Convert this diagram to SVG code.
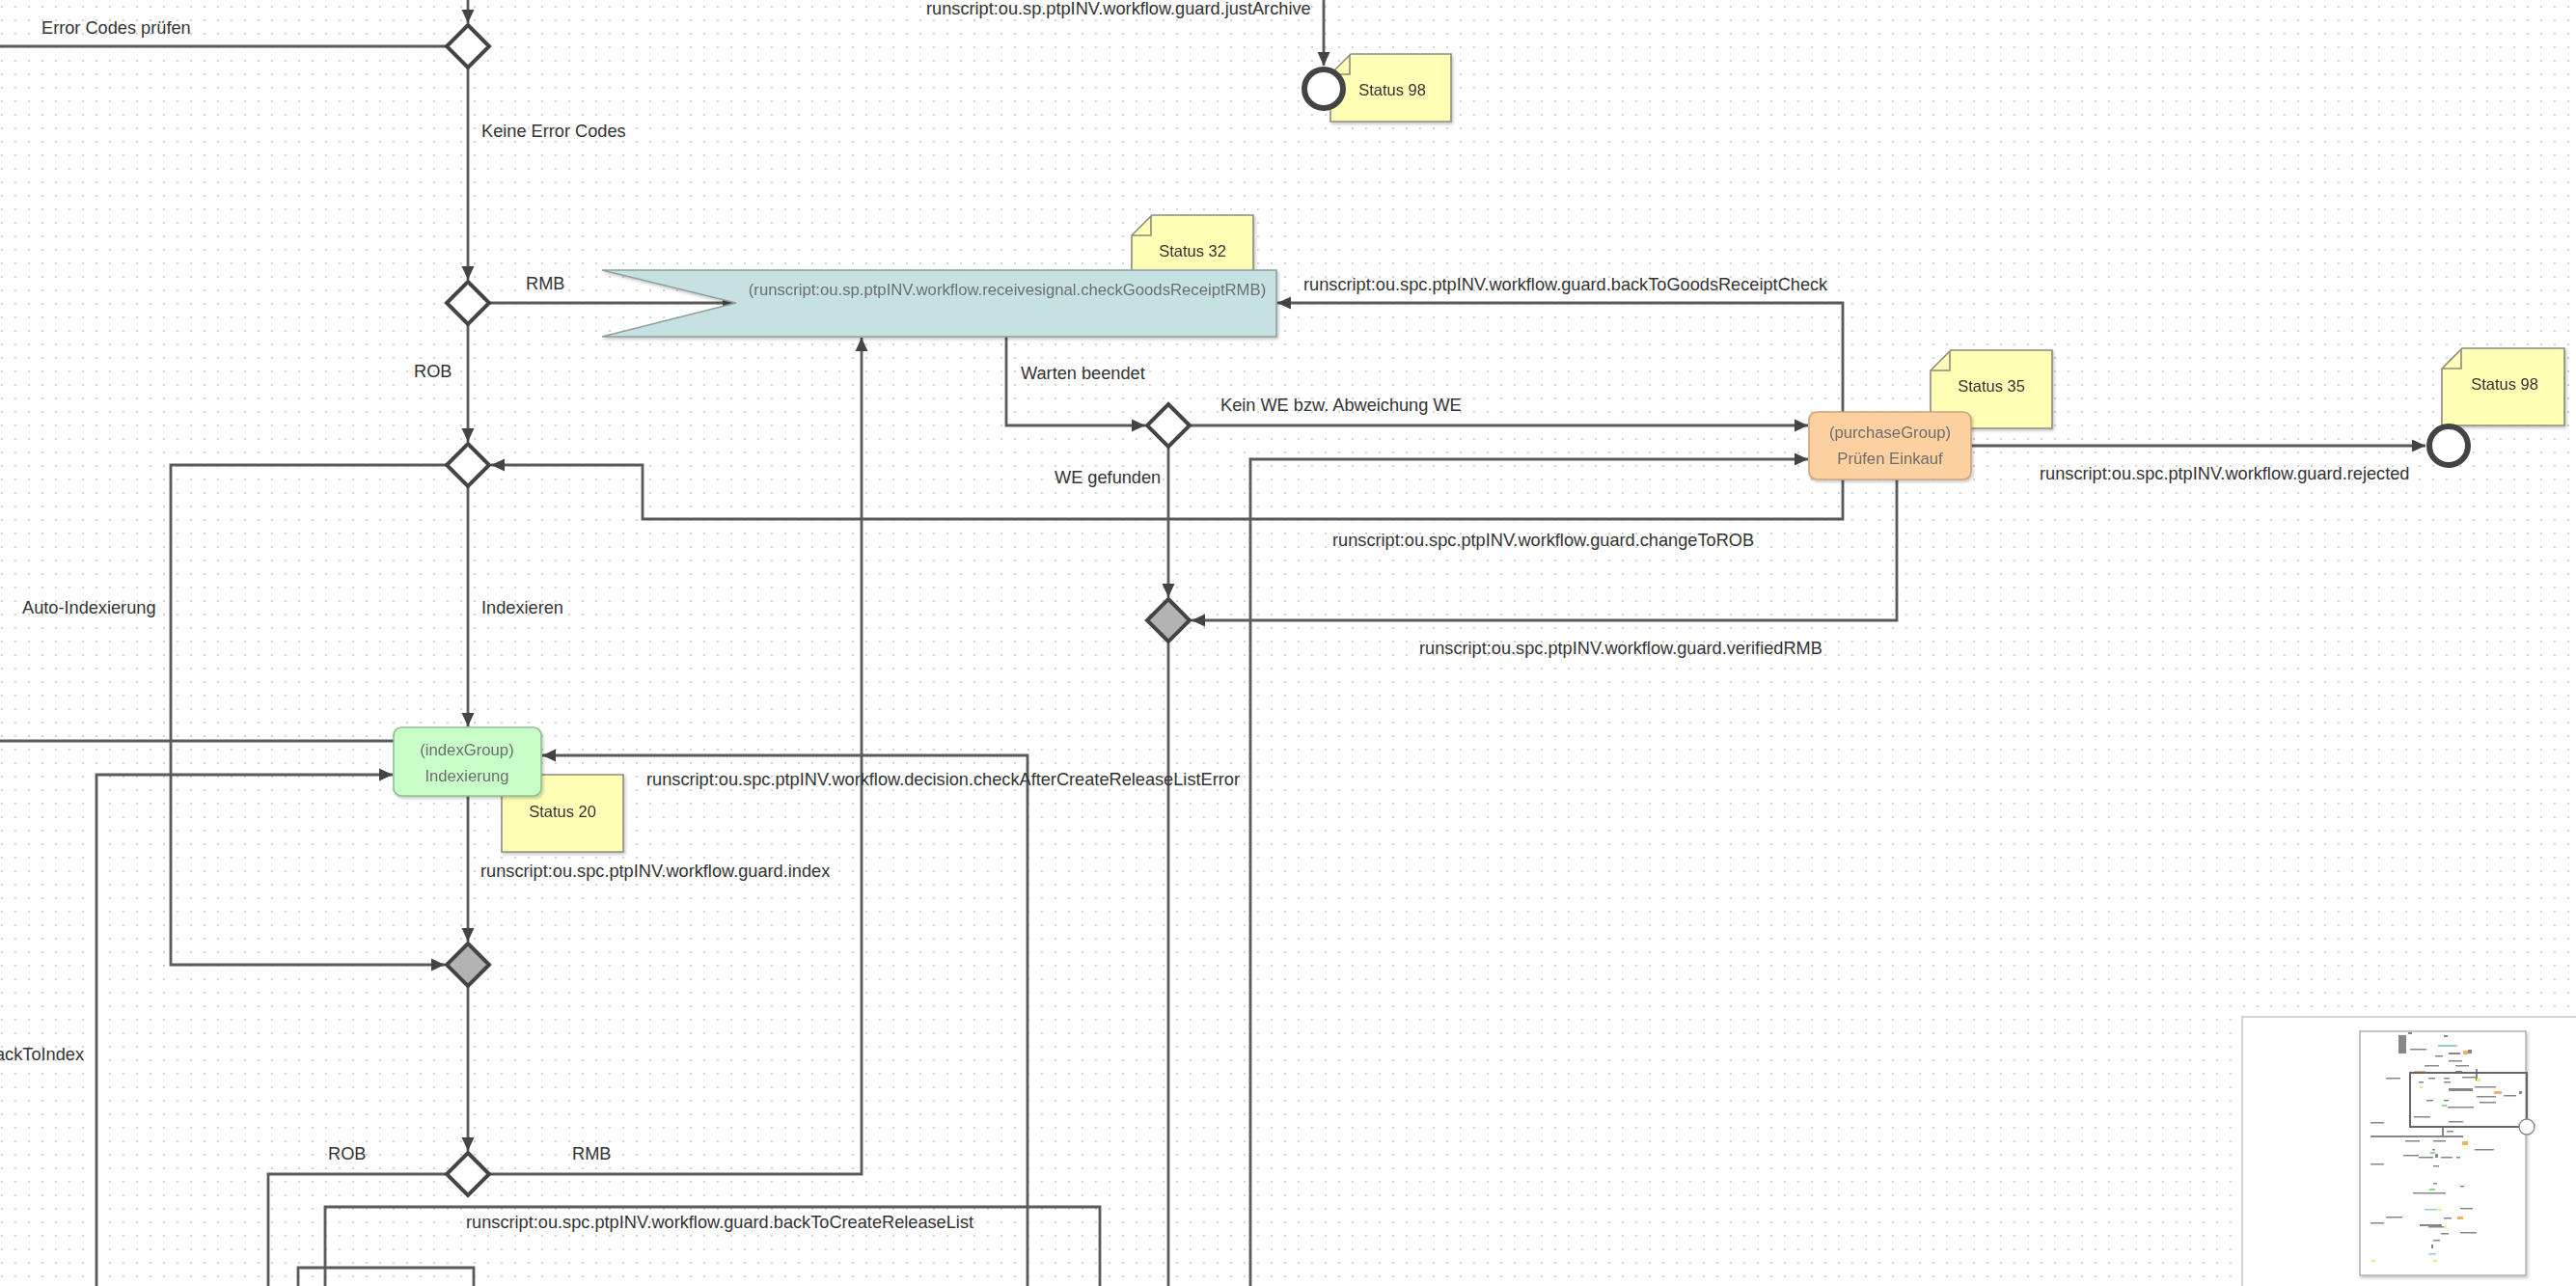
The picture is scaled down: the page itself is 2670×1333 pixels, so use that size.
<svg xmlns="http://www.w3.org/2000/svg" width="2670" height="1333" viewBox="0 0 2670 1333">
<defs>
<style>
.c{fill:none;stroke:#5a5a5a;stroke-width:2.8;stroke-linejoin:miter}
.a{marker-end:url(#arr)}
.lbl{font-family:"Liberation Sans",Arial,sans-serif;font-size:18.2px;fill:#333}
.nt{font-family:"Liberation Sans",Arial,sans-serif;font-size:16.7px;fill:#6e6e6e;text-anchor:middle}
.st{font-family:"Liberation Sans",Arial,sans-serif;font-size:16.5px;fill:#333;text-anchor:middle}
.dia{fill:#fff;stroke:#444;stroke-width:4;stroke-linejoin:miter}
.dia.g{fill:#b3b3b3}
.end{fill:#fff;stroke:#444;stroke-width:6}
.note{fill:#ffffb5;stroke:#8c8c80;stroke-width:1.6}
.fold{fill:none;stroke:#8c8c80;stroke-width:1.6}
.mm{fill:#555;opacity:.7}
</style>
<pattern id="grid" width="14" height="14" patternUnits="userSpaceOnUse">
<circle cx="2" cy="7" r="0.9" fill="#bcbcbc"/>
</pattern>
<marker id="arr" viewBox="0 0 14 14" refX="14" refY="7" markerWidth="14" markerHeight="14" markerUnits="userSpaceOnUse" orient="auto">
<path d="M0,0.5 L14,7 L0,13.5 Z" fill="#444"/>
</marker>
<filter id="sh" x="-10%" y="-10%" width="125%" height="130%">
<feDropShadow dx="1.5" dy="2" stdDeviation="1.5" flood-color="#000" flood-opacity="0.22"/>
</filter>
</defs>

<rect width="2670" height="1333" fill="#fff"/>
<rect width="2670" height="1333" fill="url(#grid)"/>

<g id="connectors">
<path class="c a" d="M485,0 V24"/>
<path class="c" d="M0,48 H463"/>
<path class="c a" d="M485,70 V290"/>
<path class="c a" d="M507,314 H763"/>
<path class="c a" d="M485,336 V458"/>
<path class="c a" d="M463,482 H177 V1000 H461"/>
<path class="c a" d="M1910,497 V538 H666 V482 H509"/>
<path class="c a" d="M485,504 V753"/>
<path class="c" d="M0,768 H408"/>
<path class="c a" d="M100,1333 V803 H407"/>
<path class="c a" d="M1065,1333 V783 H562"/>
<path class="c a" d="M485,825 V976"/>
<path class="c a" d="M485,1022 V1193"/>
<path class="c a" d="M507,1217 H893 V350"/>
<path class="c" d="M463,1217 H278 V1333"/>
<path class="c a" d="M1043,349 V441 H1187"/>
<path class="c a" d="M1233,441 H1874"/>
<path class="c a" d="M1296,1333 V476 H1874"/>
<path class="c a" d="M1211,463 V619"/>
<path class="c a" d="M1966,497 V643 H1235"/>
<path class="c" d="M1211,665 V1333"/>
<path class="c a" d="M1910,427 V314 H1324"/>
<path class="c a" d="M2043,462 H2514"/>
<path class="c a" d="M1372,0 V68"/>
<path class="c" d="M337,1333 V1251 H1140 V1333"/>
<path class="c" d="M309,1333 V1314 H491 V1333"/>
</g>

<g id="labels">
<text class="lbl" x="43" y="35">Error Codes prüfen</text>
<text class="lbl" x="499" y="142">Keine Error Codes</text>
<text class="lbl" x="545" y="300">RMB</text>
<text class="lbl" x="429" y="391">ROB</text>
<text class="lbl" x="23" y="636">Auto-Indexierung</text>
<text class="lbl" x="499" y="636">Indexieren</text>
<text class="lbl" x="1058" y="393">Warten beendet</text>
<text class="lbl" x="1265" y="426">Kein WE bzw. Abweichung WE</text>
<text class="lbl" x="1093" y="501">WE gefunden</text>
<text class="lbl" x="1351" y="301">runscript:ou.spc.ptpINV.workflow.guard.backToGoodsReceiptCheck</text>
<text class="lbl" x="1381" y="566">runscript:ou.spc.ptpINV.workflow.guard.changeToROB</text>
<text class="lbl" x="1471" y="678">runscript:ou.spc.ptpINV.workflow.guard.verifiedRMB</text>
<text class="lbl" x="2114" y="497">runscript:ou.spc.ptpINV.workflow.guard.rejected</text>
<text class="lbl" x="960" y="15">runscript:ou.sp.ptpINV.workflow.guard.justArchive</text>
<text class="lbl" x="670" y="814">runscript:ou.spc.ptpINV.workflow.decision.checkAfterCreateReleaseListError</text>
<text class="lbl" x="498" y="909">runscript:ou.spc.ptpINV.workflow.guard.index</text>
<text class="lbl" x="87" y="1099" text-anchor="end">ackToIndex</text>
<text class="lbl" x="340" y="1202">ROB</text>
<text class="lbl" x="593" y="1202">RMB</text>
<text class="lbl" x="483" y="1273">runscript:ou.spc.ptpINV.workflow.guard.backToCreateReleaseList</text>
</g>

<g id="note-status32" filter="url(#sh)">
<path class="note" d="M1173,244 L1194,223 H1299 V300 H1173 Z"/>
<path class="fold" d="M1173,244 H1193 V224"/>
<text class="st" x="1236" y="266">Status 32</text>
</g>
<g id="note-status98-top" filter="url(#sh)">
<path class="note" d="M1379,77 L1400,56 H1504 V126 H1379 Z"/>
<path class="fold" d="M1379,77 H1399 V57"/>
<text class="st" x="1443" y="99">Status 98</text>
</g>
<g id="note-status35" filter="url(#sh)">
<path class="note" d="M2001,384 L2022,363 H2127 V444 H2001 Z"/>
<path class="fold" d="M2001,384 H2021 V364"/>
<text class="st" x="2064" y="406">Status 35</text>
</g>
<g id="note-status98-right" filter="url(#sh)">
<path class="note" d="M2531,382 L2552,361 H2658 V441 H2531 Z"/>
<path class="fold" d="M2531,382 H2551 V362"/>
<text class="st" x="2596" y="404">Status 98</text>
</g>
<g id="note-status20" filter="url(#sh)">
<path class="note" d="M520,824 L541,803 H646 V883 H520 Z"/>
<path class="fold" d="M520,824 H540 V804"/>
<text class="st" x="583" y="847">Status 20</text>
</g>

<g id="signal-checkGoodsReceiptRMB" filter="url(#sh)">
<path d="M624,280 H1323 V349 H624 L763,314 Z" fill="#c6e1e2" stroke="#8fa0a1" stroke-width="1.6"/>
<text class="nt" x="1044" y="306">(runscript:ou.sp.ptpINV.workflow.receivesignal.checkGoodsReceiptRMB)</text>
</g>

<g id="task-indexierung" filter="url(#sh)">
<rect x="408" y="754" width="153" height="71" rx="8" fill="#c8fec8" stroke="#8fbf8f" stroke-width="1.6"/>
<text class="nt" x="484" y="783">(indexGroup)</text>
<text class="nt" x="484" y="810">Indexierung</text>
</g>

<g id="task-pruefen-einkauf" filter="url(#sh)">
<rect x="1875" y="427" width="168" height="70" rx="8" fill="#fdd09f" stroke="#cba47c" stroke-width="1.6"/>
<text class="nt" x="1959" y="454">(purchaseGroup)</text>
<text class="nt" x="1959" y="481">Prüfen Einkauf</text>
</g>

<g id="decision-error-codes"><path class="dia" d="M485,26 L507,48 L485,70 L463,48 Z"/></g>
<g id="decision-rmb-rob-1"><path class="dia" d="M485,292 L507,314 L485,336 L463,314 Z"/></g>
<g id="decision-index"><path class="dia" d="M485,460 L507,482 L485,504 L463,482 Z"/></g>
<g id="merge-index"><path class="dia g" d="M485,978 L507,1000 L485,1022 L463,1000 Z"/></g>
<g id="decision-rmb-rob-2"><path class="dia" d="M485,1195 L507,1217 L485,1239 L463,1217 Z"/></g>
<g id="decision-we"><path class="dia" d="M1211,419 L1233,441 L1211,463 L1189,441 Z"/></g>
<g id="merge-we"><path class="dia g" d="M1211,621 L1233,643 L1211,665 L1189,643 Z"/></g>

<g id="end-archive"><circle class="end" cx="1372" cy="92" r="20"/></g>
<g id="end-rejected"><circle class="end" cx="2538" cy="462" r="20"/></g>

<g id="minimap">
<rect x="2324" y="1054" width="360" height="300" fill="#fff" stroke="#d4d4d4" stroke-width="2"/>
<rect x="2446" y="1069" width="172" height="253" fill="#fff" stroke="#b0b0b0" stroke-width="1.5" filter="url(#sh)"/>
<rect class="mm" x="2486" y="1073" width="8" height="19"/>
<rect class="mm" x="2496" y="1070" width="4" height="2"/>
<rect class="mm" x="2533" y="1073" width="4" height="2"/>
<rect x="2527" y="1083" width="20" height="2" fill="#9cc" />
<rect class="mm" x="2498" y="1087" width="17" height="1.5"/>
<rect class="mm" x="2538" y="1091" width="12" height="2"/>
<rect x="2553" y="1089" width="5" height="4" fill="#f5b060"/>
<rect class="mm" x="2558" y="1088" width="4" height="4"/>
<rect class="mm" x="2524" y="1094" width="8" height="1.5"/>
<rect class="mm" x="2538" y="1099" width="14" height="1.5"/>
<rect class="mm" x="2513" y="1104" width="15" height="1.5"/>
<rect class="mm" x="2545" y="1104" width="14" height="1.5"/>
<rect x="2502" y="1110" width="12" height="2" fill="#e8b060"/>
<rect class="mm" x="2545" y="1110" width="7" height="2"/>
<rect class="mm" x="2566" y="1108" width="2" height="12"/>
<rect class="mm" x="2473" y="1117" width="15" height="1.5"/>
<rect class="mm" x="2517" y="1117" width="7" height="1.5"/>
<rect class="mm" x="2533" y="1117" width="6" height="1.5"/>
<rect class="mm" x="2552" y="1116" width="14" height="1.5"/>
<rect x="2567" y="1118" width="4" height="3" fill="#ee6"/>
<rect class="mm" x="2507" y="1121" width="5" height="1.5"/>
<rect class="mm" x="2533" y="1121" width="7" height="1.5"/>
<rect x="2508" y="1126" width="3" height="2" fill="#ee6"/>
<rect class="mm" x="2538" y="1128" width="25" height="3"/>
<rect class="mm" x="2565" y="1126" width="22" height="1.5"/>
<rect class="mm" x="2567" y="1136" width="20" height="1.5"/>
<rect x="2585" y="1131" width="8" height="3" fill="#f5b060"/>
<rect class="mm" x="2595" y="1135" width="13" height="1.5"/>
<rect class="mm" x="2611" y="1131" width="3" height="3"/>
<rect class="mm" x="2515" y="1140" width="7" height="1.5"/>
<rect class="mm" x="2533" y="1140" width="5" height="1.5"/>
<rect class="mm" x="2570" y="1142" width="17" height="1.5"/>
<rect x="2531" y="1145" width="5" height="2" fill="#8d8"/>
<rect class="mm" x="2537" y="1147" width="27" height="1.5"/>
<rect class="mm" x="2502" y="1157" width="17" height="1.5"/>
<rect class="mm" x="2538" y="1162" width="15" height="1.5"/>
<rect class="mm" x="2457" y="1163" width="14" height="1.5"/>
<rect class="mm" x="2531" y="1167" width="2" height="10"/>
<rect class="mm" x="2457" y="1177" width="96" height="2"/>
<rect class="mm" x="2536" y="1172" width="7" height="1.5"/>
<rect class="mm" x="2493" y="1182" width="15" height="1.5"/>
<rect class="mm" x="2522" y="1182" width="13" height="1.5"/>
<rect x="2552" y="1183" width="6" height="4" fill="#f5b060"/>
<rect class="mm" x="2565" y="1191" width="20" height="1.5"/>
<rect class="mm" x="2521" y="1191" width="3" height="1.5"/>
<rect x="2519" y="1194" width="5" height="2" fill="#8d8"/>
<rect class="mm" x="2491" y="1197" width="16" height="1.5"/>
<rect class="mm" x="2507" y="1199" width="15" height="1.5"/>
<rect class="mm" x="2524" y="1196" width="3" height="4"/>
<rect class="mm" x="2530" y="1199" width="12" height="1.5"/>
<rect class="mm" x="2546" y="1199" width="4" height="1.5"/>
<rect class="mm" x="2457" y="1206" width="14" height="1.5"/>
<rect class="mm" x="2522" y="1208" width="6" height="1.5"/>
<rect class="mm" x="2522" y="1226" width="4" height="1.5"/>
<rect class="mm" x="2550" y="1229" width="4" height="1.5"/>
<rect x="2518" y="1232" width="6" height="2" fill="#8d8"/>
<rect class="mm" x="2501" y="1236" width="34" height="1.5"/>
<rect class="mm" x="2550" y="1252" width="13" height="1.5"/>
<rect x="2513" y="1253" width="13" height="1.5" fill="#9cc"/>
<rect x="2527" y="1253" width="3" height="2" fill="#ee6"/>
<rect class="mm" x="2473" y="1261" width="17" height="1.5"/>
<rect class="mm" x="2533" y="1262" width="8" height="1.5"/>
<rect x="2547" y="1261" width="6" height="3" fill="#f5b060"/>
<rect class="mm" x="2457" y="1267" width="14" height="1.5"/>
<rect class="mm" x="2508" y="1269" width="23" height="2"/>
<rect class="mm" x="2517" y="1271" width="17" height="1.5"/>
<rect x="2533" y="1271" width="3" height="2" fill="#ee6"/>
<rect class="mm" x="2530" y="1278" width="8" height="1.5"/>
<rect class="mm" x="2550" y="1277" width="17" height="1.5"/>
<rect class="mm" x="2522" y="1285" width="7" height="1.5"/>
<rect class="mm" x="2520" y="1290" width="2" height="4"/>
<rect x="2517" y="1299" width="8" height="1.5" fill="#9cc"/>
<rect x="2458" y="1306" width="4" height="2" fill="#ee6"/>
<rect x="2522" y="1306" width="4" height="2" fill="#ee6"/>
<rect x="2498" y="1112" width="121" height="56" fill="none" stroke="#666" stroke-width="2"/>
<circle cx="2619" cy="1168" r="8" fill="#fff" stroke="#8a8a8a" stroke-width="1.5"/>
</g>
</svg>
